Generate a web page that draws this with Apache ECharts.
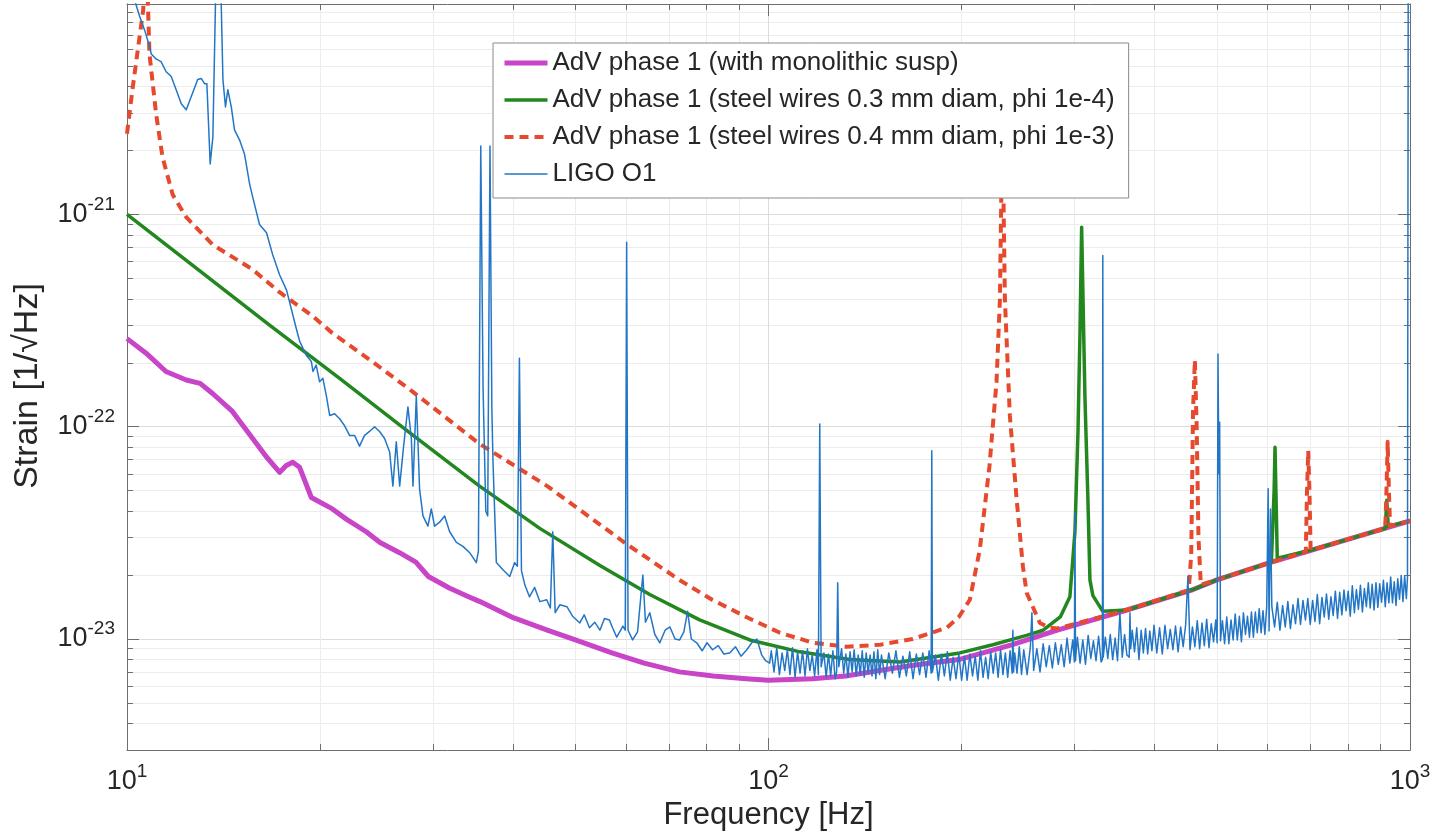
<!DOCTYPE html>
<html>
<head>
<meta charset="utf-8">
<script src="https://cdn.jsdelivr.net/npm/echarts@6/dist/echarts.min.js"></script>
<style>
html,body{margin:0;padding:0;background:#ffffff;}
#chart{width:1441px;height:836px;}
</style>
</head>
<body>
<div id="chart"></div>
<script>
// ---------------- data (frequency [Hz], strain [1/sqrt(Hz)]) ----------------
const seriesNames = [
  'AdV phase 1 (with monolithic susp)',
  'AdV phase 1 (steel wires 0.3 mm diam, phi 1e-4)',
  'AdV phase 1 (steel wires 0.4 mm diam, phi 1e-3)',
  'LIGO O1'
];

const monolithic = [
  [10,2.6e-22],[10.71,2.22e-22],[11.5,1.82e-22],[12.37,1.66e-22],[13.0,1.6e-22],[13.61,1.43e-22],
  [14.6,1.18e-22],[15.7,8.8e-23],[16.5,7.2e-23],[17.3,6.1e-23],[17.71,6.56e-23],[18.13,6.8e-23],
  [18.58,6.44e-23],[19.38,4.64e-23],[20.9,4.1e-23],[22.0,3.66e-23],[23.6,3.2e-23],[24.8,2.85e-23],
  [26.6,2.55e-23],[28.2,2.3e-23],[29.5,1.97e-23],[31.8,1.74e-23],[33.8,1.6e-23],[35.5,1.5e-23],
  [40,1.26e-23],[45.2,1.1e-23],[50,9.9e-24],[57,8.6e-24],[64,7.7e-24],[72.6,7.0e-24],[82,6.7e-24],
  [92.3,6.5e-24],[100,6.4e-24],[117,6.5e-24],[132,6.7e-24],[149,7.1e-24],[167,7.5e-24],[198,8.0e-24],
  [240,9.4e-24],[282,1.1e-23],[362,1.37e-23],[459,1.71e-23],[500,1.9e-23],[608,2.3e-23],[1000,3.6e-23]
];

const steel03 = [
  [10,1.0e-21],[12.97,5.43e-22],[16.68,3.01e-22],[21.45,1.69e-22],[27.57,9.37e-23],[35.45,5.25e-23],
  [44,3.32e-23],[54.6,2.22e-23],[65.3,1.62e-23],[78.1,1.23e-23],[93.5,9.9e-24],[111.9,8.7e-24],
  [133.9,8.0e-24],[160.2,7.8e-24],[198.7,8.6e-24],[223.7,9.4e-24],[252.5,1.04e-23],[268,1.1e-23],
  [285,1.27e-23],[295,1.58e-23],[300.4,3.2e-23],[303.7,9.5e-23],[305.9,2.8e-22],[307.7,8.7e-22],
  [309.5,3.5e-22],[311.4,1.36e-22],[314.7,4.56e-23],[317,1.9e-23],[320.4,1.6e-23],[332,1.35e-23],
  [362,1.37e-23],[459,1.71e-23],[500,1.9e-23],[608,2.3e-23],[611,2.35e-23],[614,5.0e-23],
  [616,8.0e-23],[618,5.0e-23],[621,2.4e-23],[700,2.62e-23],[915,3.32e-23],[920,4.5e-23],
  [925,3.4e-23],[1000,3.6e-23]
];

const steel04 = [
  [10,2.4e-21],[10.2,3.9e-21],[10.45,6.7e-21],[10.6,9.2e-21],[10.7,2.0e-20],[10.84,5.7e-21],
  [11.1,2.98e-21],[11.36,1.86e-21],[11.78,1.24e-21],[12.37,9.7e-22],[13.6,7.2e-22],[15.7,5.5e-22],
  [17.29,4.3e-22],[19.47,3.32e-22],[20.9,2.76e-22],[24.1,2.03e-22],[27.9,1.46e-22],[35.45,8.3e-23],
  [45.2,5.25e-23],[60.1,2.8e-23],[72.6,1.9e-23],[81.7,1.53e-23],[92.3,1.27e-23],[104.2,1.07e-23],
  [117.3,9.6e-24],[132.4,9.2e-24],[149.3,9.4e-24],[167.8,1.0e-23],[189.6,1.13e-23],[198,1.27e-23],
  [206,1.53e-23],[213.5,2.64e-23],[221,6.5e-23],[226.7,1.63e-22],[229.5,4.0e-22],[231.5,3.0e-21],
  [233.6,4.0e-22],[237.8,1.13e-22],[243.6,4.6e-23],[249.2,2.2e-23],[252.6,1.65e-23],[264.9,1.19e-23],
  [274.5,1.13e-23],[282,1.12e-23],[362,1.37e-23],[452,1.7e-23],[456,2.5e-23],[459,1.2e-22],
  [462,2.06e-22],[465,1.0e-22],[468,3.0e-23],[472,1.8e-23],[500,1.9e-23],[608,2.3e-23],
  [688,2.57e-23],[691,5.0e-23],[694,7.7e-23],[697,5.0e-23],[700,2.62e-23],[915,3.32e-23],
  [919,5.0e-23],[923,8.5e-23],[927,5.0e-23],[931,3.4e-23],[1000,3.6e-23]
];

const ligoLow = [
  [10,3e-20],[10.3,1.0e-20],[10.46,8.6e-21],[10.65,7.4e-21],[10.84,6.2e-21],[10.91,5.7e-21],
  [11.1,5.4e-21],[11.3,5.25e-21],[11.51,4.7e-21],[11.72,4.46e-21],[11.93,3.87e-21],[12.15,3.32e-21],
  [12.37,3.11e-21],[12.59,3.58e-21],[12.89,4.32e-21],[13.05,4.37e-21],[13.21,4.13e-21],[13.32,4.13e-21],
  [13.48,1.73e-21],[13.61,2.32e-21],[13.8,2e-20],[13.95,2e-20],[14.11,4.32e-21],[14.24,3.21e-21],
  [14.36,3.87e-21],[14.54,3.21e-21],[14.71,2.5e-21],[14.98,2.24e-21],[15.25,1.92e-21],[15.53,1.39e-21],
  [15.71,1.2e-21],[16.09,8.97e-22],[16.5,8.2e-22],[16.86,6.5e-22],[17.29,5.2e-22],[17.73,4.4e-22],
  [18.36,2.9e-22],[18.58,2.53e-22],[19.03,2.17e-22],[19.38,2.03e-22],[19.49,1.82e-22],[19.72,1.95e-22],
  [19.96,1.63e-22],[20.2,1.69e-22],[20.45,1.4e-22],[20.7,1.13e-22],[21.07,1.15e-22],[21.45,1.09e-22],
  [21.84,1.01e-22],[22.23,9.1e-23],[22.63,9.1e-23],[23.04,8.1e-23],[23.46,9.1e-23],[23.88,9.5e-23],
  [24.32,1.0e-22],[24.76,9.5e-23],[25.21,8.8e-23],[25.67,7.6e-23],[25.97,5.25e-23],[26.29,8.5e-23],
  [26.61,5.25e-23],[26.99,8.1e-23],[27.41,1.24e-22],[27.75,8.8e-23],[27.91,5.25e-23],[28.25,1.4e-22],
  [28.58,5.1e-23],[28.93,3.8e-23],[29.45,3.4e-23],[29.81,4.1e-23],[30.16,3.4e-23],[30.71,3.55e-23],
  [31.27,3.8e-23],[31.84,3.2e-23],[32.62,2.85e-23],[33.4,2.73e-23],[34.21,2.55e-23],[35.04,2.29e-23]
];

const ligoMid = [
  [35.3,2.6e-23],[35.6,2.1e-21],[35.9,1.5e-22],[36.25,4.0e-23],[36.5,3.8e-23],[36.8,2.1e-21],
  [37.05,1.2e-22],[37.2,6.8e-23],[37.65,2.29e-23],[38.55,2.12e-23],[39.5,1.97e-23],[40.21,2.29e-23],
  [40.6,2.2e-23],[40.9,2.1e-22],[41.2,2.1e-23],[41.7,1.8e-23],[42.4,1.58e-23],[43.2,1.75e-23],
  [44.0,1.5e-23],[45.1,1.53e-23],[45.7,1.4e-23],[46.1,3.2e-23],[46.5,1.33e-23],[47.3,1.45e-23],
  [48.5,1.42e-23],[49.5,1.28e-23],[50.8,1.19e-23],[51.6,1.3e-23],[52.6,1.13e-23],[53.6,1.2e-23],
  [54.6,1.1e-23],[55.5,1.25e-23],[56.5,1.23e-23],[57.2,1.12e-23],[58.0,1.02e-23],[59.3,1.15e-23],
  [59.8,1.1e-23],[60.1,7.4e-22],[60.4,1.1e-23],[61.4,9.9e-24],[62.5,1.08e-23],[63.7,2.0e-23],
  [64.3,1.2e-23],[65.3,1.33e-23],[66.5,1.05e-23],[67.7,9.6e-24],[69.0,1.1e-23],[70.2,1.14e-23],
  [71.5,1.0e-23],[72.7,9.9e-24],[73.8,1.08e-23],[74.8,1.35e-23],[75.8,1.0e-23],[77.3,9.6e-24],
  [78.8,8.8e-24],[80.2,9.6e-24],[81.8,8.9e-24],[83.5,9.3e-24],[85.2,8.5e-24],[87.0,8.6e-24],
  [88.8,9.2e-24],[90.6,8.3e-24],[92.5,8.9e-24],[94.2,9.6e-24],[95.9,1.0e-23],[97.6,8.4e-24],
  [99.0,7.9e-24],[100.4,7.7e-24]
];

const ligoHigh = [
  [101,8.8e-24],[102,7.0e-24],[103,9.1e-24],[104,6.8e-24],[105,8.6e-24],[106,7.1e-24],[107,8.9e-24],
  [108,6.8e-24],[109,9.1e-24],[110,6.6e-24],[111,8.7e-24],[112,6.9e-24],[113,8.8e-24],[114,6.7e-24],
  [115,9.0e-24],[116,7.1e-24],[117,8.4e-24],[118,6.7e-24],[119,8.9e-24],[119.6,6.8e-24],[120.2,1.03e-22],
  [120.8,7.4e-24],[122,8.6e-24],[123,6.6e-24],[124,8.5e-24],[125,6.7e-24],[126,8.8e-24],[127,6.5e-24],
  [127.7,7.0e-24],[128.2,1.84e-23],[128.7,7.4e-24],[130,9.0e-24],[131,6.9e-24],[132,8.5e-24],[133,6.6e-24],
  [134,8.7e-24],[135,7.0e-24],[136,8.9e-24],[137,6.7e-24],[138,8.4e-24],[139,6.8e-24],[140,8.8e-24],
  [141,6.6e-24],[142,8.6e-24],[143,6.9e-24],[144,8.4e-24],[145,6.7e-24],[146,8.7e-24],[147,6.5e-24],
  [148,8.9e-24],[149,6.8e-24],[150,8.4e-24],[152,6.5e-24],[154,8.6e-24],[156,6.9e-24],[158,8.8e-24],
  [160,6.6e-24],[162,8.3e-24],[164,6.7e-24],[166,8.7e-24],[168,6.5e-24],[170,8.5e-24],[172,6.8e-24],
  [174,8.6e-24],[176,6.6e-24],[178,8.8e-24],[179.3,6.9e-24],[179.7,7.7e-23],[180.1,7.0e-24],[182,8.4e-24],
  [184,6.4e-24],[186,8.5e-24],[188,6.7e-24],[190,8.7e-24],[192,6.4e-24],[194,8.2e-24],[196,6.5e-24],
  [198,8.5e-24],[200,6.4e-24],[202,8.3e-24],[204,6.4e-24],[206,8.5e-24],[208,6.7e-24],[210,8.3e-24],
  [212,6.4e-24],[214,8.8e-24],[216,6.6e-24],[218,8.2e-24],[220,6.5e-24],[222,8.7e-24],[224,6.9e-24],
  [226,8.6e-24],[228,6.6e-24],[230,8.9e-24],[232,6.8e-24],[234,8.6e-24],[236,6.6e-24],[238,8.8e-24],
  [239.8,6.9e-24],[240.4,1.1e-23],[241,7.0e-24],[242,8.6e-24],[244,6.9e-24],[246,9.2e-24],[248,6.8e-24],
  [250,8.9e-24],[253,6.8e-24],[256,9.2e-24],[257.4,1.33e-23],[259,7.1e-24],[262,9.0e-24],[265,7.0e-24],
  [268,9.5e-24],[271,7.4e-24],[274,9.3e-24],[277,7.3e-24],[280,9.6e-24],[283,7.6e-24],[286,9.4e-24],
  [289,7.4e-24],[292,1.01e-23],[295,7.7e-24],[298,9.9e-24],[299.8,7.8e-24],[300.4,3.95e-23],[301,7.9e-24],
  [303,1.02e-23],[306,7.7e-24],[309,9.9e-24],[312,7.6e-24],[315,1.04e-23],[318,8.1e-24],[321,9.8e-24],
  [324,7.9e-24],[327,1.03e-23],[330,7.8e-24],[331.5,8.0e-24],[332,6.4e-22],[332.5,8.2e-24],[335,1.02e-23],
  [338,8.1e-24],[341,1.05e-23],[344,8.0e-24],[347,1.01e-23],[350,7.9e-24],[353,1.33e-23],[356,8.2e-24],
  [359,1.05e-23],[362,8.4e-24],[365,8.2e-24],[366,1.33e-23],[367,9.0e-24],[369,1.1e-23],[372,8.7e-24],
  [375,1.13e-23],[378,8.0e-24],[381,1.1e-23],[384,8.6e-24],[387,1.12e-23],[390,8.5e-24],[393,1.09e-23],
  [396,8.8e-24],[399,1.16e-23],[403,8.6e-24],[407,1.13e-23],[411,8.5e-24],[415,1.16e-23],[419,9.0e-24],
  [423,1.11e-23],[427,8.9e-24],[431,1.15e-23],[435,8.7e-24],[439,1.14e-23],[443,9.2e-24],[447,1.17e-23],
  [450.6,1.97e-23],[454,8.9e-24],[458,1.14e-23],[462,9.2e-24],[466,1.22e-23],[470,9.0e-24],[474,1.19e-23],
  [478,9.3e-24],[482,1.24e-23],[486,9.1e-24],[490,1.18e-23],[494,9.7e-24],[498,1.23e-23],[500.5,9.6e-24],
  [502,2.2e-22],[503.5,6.0e-23],[505,1.05e-22],[506.5,9.8e-24],[510,1.22e-23],[514,9.5e-24],[518,1.27e-23],
  [522,9.5e-24],[526,1.23e-23],[530,9.9e-24],[534,1.31e-23],[538,9.9e-24],[542,1.28e-23],[546,9.7e-24],
  [550,1.33e-23],[554,1.05e-23],[558,1.28e-23],[562,1.02e-23],[566,1.34e-23],[570,1.02e-23],[574,1.34e-23],
  [578,1.07e-23],[582,1.39e-23],[586,1.07e-23],[590,1.36e-23],[594,1.05e-23],[598,1.44e-23],[601,5.1e-23],
  [603,1.09e-23],[606,4.1e-23],[609,1.42e-23],[615,1.14e-23],[621,1.49e-23],[627,1.1e-23],[633,1.44e-23],
  [639,1.14e-23],[645,1.5e-23],[651,1.12e-23],[657,1.45e-23],[663,1.18e-23],[669,1.55e-23],[675,1.17e-23],
  [681,1.52e-23],[687,1.23e-23],[693,1.55e-23],[699,1.17e-23],[705,1.52e-23],[711,1.21e-23],[717,1.62e-23],
  [723,1.18e-23],[729,1.57e-23],[735,1.27e-23],[741,1.63e-23],[747,1.24e-23],[753,1.58e-23],[759,1.29e-23],
  [765,1.68e-23],[771,1.25e-23],[777,1.66e-23],[783,1.3e-23],[789,1.7e-23],[795,1.36e-23],[801,1.68e-23],
  [807,1.28e-23],[813,1.78e-23],[819,1.33e-23],[825,1.71e-23],[831,1.38e-23],[837,1.79e-23],[843,1.34e-23],
  [849,1.73e-23],[855,1.42e-23],[861,1.84e-23],[867,1.4e-23],[873,1.81e-23],[879,1.37e-23],[885,1.84e-23],
  [891,1.41e-23],[897,1.82e-23],[903,1.49e-23],[909,1.89e-23],[915,1.42e-23],[921,1.84e-23],[927,1.48e-23],
  [933,1.96e-23],[939,1.48e-23],[945,1.86e-23],[951,1.44e-23],[957,1.92e-23],[963,1.54e-23],[969,1.99e-23],
  [975,1.5e-23],[981,1.98e-23],[987,1.55e-23],[991,1.95e-23],[994,3e-20],[1000,3e-20]
];

// axes
const xRange = [10, 1000];
const yRange = [3e-24, 9.8e-21];
const xTickValues = [10, 100, 1000];
const yTickValues = [1e-23, 1e-22, 1e-21];
const xMinorTicks = [20,30,40,50,60,70,80,90,200,300,400,500,600,700,800,900];
const yMinorTicks = [4e-24,5e-24,6e-24,7e-24,8e-24,9e-24,2e-23,3e-23,4e-23,5e-23,6e-23,7e-23,8e-23,9e-23,
  2e-22,3e-22,4e-22,5e-22,6e-22,7e-22,8e-22,9e-22,2e-21,3e-21,4e-21,5e-21,6e-21,7e-21,8e-21,9e-21];
const xTitle = 'Frequency [Hz]';
const yTitle = 'Strain [1/\u221AHz]';

// ---------------- chart ----------------
const FONT = "'Liberation Sans', Arial, Helvetica, sans-serif";
const TXT = '#262626';
const FRAME = '#6e6e6e';
const MAJOR = '#dcdcdc';
const MINOR = '#ececec';
const lg = Math.log10;
const yLo = lg(yRange[0]), yHi = lg(yRange[1]);
const xLo = lg(xRange[0]), xHi = lg(xRange[1]);

const rich = {
  b: {fontSize: 27, fontFamily: FONT, color: TXT, verticalAlign: 'middle'},
  s: {fontSize: 19, fontFamily: FONT, color: TXT, verticalAlign: 'top', padding: [0, 0, 20, 0]}
};
function supLabel(exp) { return '{b|10}{s|' + exp + '}'; }

function toPlot(arr) { return arr.map(p => [p[0], lg(p[1])]); }

function decoX(position, values, len, showLine, split) {
  return {
    type: 'value', min: xLo, max: xHi, position: position, gridIndex: 0,
    axisLine: {show: showLine, onZero: false, lineStyle: {color: FRAME, width: 1}},
    axisTick: {show: true, inside: true, length: len, customValues: values, lineStyle: {color: FRAME, width: 1}},
    axisLabel: {show: false},
    splitLine: split ? {show: true, lineStyle: {color: split, width: 1}} : {show: false},
    silent: true
  };
}
function decoY(position, values, len, showLine, split) {
  return {
    type: 'value', min: yLo, max: yHi, position: position, gridIndex: 0,
    axisLine: {show: showLine, onZero: false, lineStyle: {color: FRAME, width: 1}},
    axisTick: {show: true, inside: true, length: len, customValues: values, lineStyle: {color: FRAME, width: 1}},
    axisLabel: {show: false},
    splitLine: split ? {show: true, lineStyle: {color: split, width: 1}} : {show: false},
    silent: true
  };
}

function lineSeries(name, data, color, width, type, z) {
  return {
    type: 'line', name: name, data: toPlot(data), xAxisIndex: 0, yAxisIndex: 0,
    symbol: 'none', showSymbol: false, clip: true, z: z, silent: true,
    lineStyle: {color: color, width: width, type: type, cap: 'butt', join: 'round'},
    itemStyle: {color: color},
    emphasis: {disabled: true},
    animation: false
  };
}

const ligo = ligoLow.concat(ligoMid, ligoHigh);

const chart = echarts.init(document.getElementById('chart'), null, {renderer: 'canvas', width: 1441, height: 836});
chart.setOption({
  animation: false,
  backgroundColor: '#ffffff',
  textStyle: {fontFamily: FONT},
  grid: {left: 127, right: 31, top: 4, bottom: 86, containLabel: false, outerBoundsMode: 'none'},
  legend: {
    show: true, orient: 'vertical', left: 493, top: 43, padding: [7, 14, 11, 9],
    itemGap: 11, itemWidth: 43, itemHeight: 14, selectedMode: false,
    backgroundColor: '#ffffff', borderColor: '#8a8a8a', borderWidth: 1, borderRadius: 0,
    textStyle: {fontSize: 26, lineHeight: 26, color: TXT, fontFamily: FONT},
    itemStyle: {opacity: 0},
    lineStyle: {width: 'inherit'},
    data: seriesNames, z: 10
  },
  xAxis: [
    {
      type: 'log', logBase: 10, min: xRange[0], max: xRange[1], position: 'bottom', gridIndex: 0,
      axisLine: {show: true, onZero: false, lineStyle: {color: FRAME, width: 1}},
      axisTick: {show: true, inside: true, length: 12, lineStyle: {color: FRAME, width: 1}},
      axisLabel: {
        show: true, margin: 12,
        formatter: v => (xTickValues.indexOf(v) >= 0 ? supLabel(Math.round(lg(v))) : ''),
        rich: rich
      },
      splitLine: {show: true, lineStyle: {color: MAJOR, width: 1}},
      minorTick: {show: false}, minorSplitLine: {show: false},
      name: xTitle, nameLocation: 'middle', nameGap: 48,
      nameTextStyle: {fontSize: 31, color: TXT, fontFamily: FONT}
    },
    decoX('bottom', xMinorTicks.map(lg), 6, false, MINOR),
    decoX('top', xTickValues.map(lg), 12, true, null),
    decoX('top', xMinorTicks.map(lg), 6, false, null)
  ],
  yAxis: [
    {
      type: 'value', min: yLo, max: yHi, position: 'left', gridIndex: 0,
      axisLine: {show: true, onZero: false, lineStyle: {color: FRAME, width: 1}},
      axisTick: {show: true, inside: true, length: 12, customValues: yTickValues.map(lg), lineStyle: {color: FRAME, width: 1}},
      axisLabel: {
        show: true, margin: 12, customValues: yTickValues.map(lg),
        formatter: v => supLabel(Math.round(v)),
        rich: rich
      },
      splitLine: {show: true, lineStyle: {color: MAJOR, width: 1}},
      name: yTitle, nameLocation: 'middle', nameGap: 82,
      nameTextStyle: {fontSize: 34, color: TXT, fontFamily: FONT, padding: [0, 18, 0, 0]}
    },
    decoY('left', yMinorTicks.map(lg), 6, false, MINOR),
    decoY('right', yTickValues.map(lg), 12, true, null),
    decoY('right', yMinorTicks.map(lg), 6, false, null)
  ],
  series: [
    lineSeries(seriesNames[0], monolithic, '#c845c8', 5, 'solid', 3),
    lineSeries(seriesNames[1], steel03, '#23871f', 3.5, 'solid', 4),
    lineSeries(seriesNames[2], steel04, '#e64a2e', 4, [9, 6], 5),
    lineSeries(seriesNames[3], ligo, '#2376c6', 1.5, 'solid', 6)
  ]
});
</script>
</body>
</html>
